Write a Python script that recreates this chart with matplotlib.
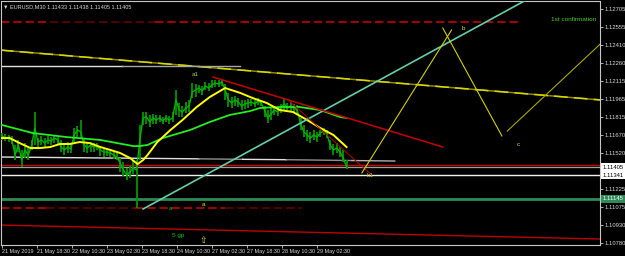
import matplotlib
matplotlib.use('Agg')
import matplotlib.pyplot as plt
import matplotlib.transforms as mtransforms

plt.rcParams['font.family'] = ['Liberation Sans', 'DejaVu Sans']

# ---------------- data ----------------
bars = list(range(0, 316, 3))
close = [1.11662, 1.11645, 1.11653, 1.11629, 1.11505, 1.11588, 1.11464, 1.11547, 1.11505, 1.11579,
         1.11727, 1.11612, 1.11629, 1.11604, 1.11629, 1.11621, 1.11645, 1.11629, 1.11571, 1.11547,
         1.11571, 1.11555, 1.11670, 1.11711, 1.11695, 1.11588, 1.11563, 1.11588, 1.11571, 1.11579,
         1.11547, 1.11530, 1.11530, 1.11522, 1.11505, 1.11489, 1.11440, 1.11382, 1.11341, 1.11366,
         1.11399, 1.11382, 1.11629, 1.11810, 1.11818, 1.11777, 1.11810, 1.11793, 1.11810, 1.11785,
         1.11810, 1.11793, 1.11810, 1.11958, 1.11875, 1.11859, 1.11892, 1.11908, 1.12023, 1.12040,
         1.12056, 1.12032, 1.12073, 1.12056, 1.12081, 1.12097, 1.12089, 1.12106, 1.12040, 1.11958,
         1.11933, 1.11958, 1.11941, 1.11908, 1.11925, 1.11933, 1.11941, 1.11925, 1.11950, 1.11933,
         1.11875, 1.11810, 1.11843, 1.11875, 1.11859, 1.11892, 1.11925, 1.11892, 1.11908, 1.11892,
         1.11875, 1.11760, 1.11695, 1.11670, 1.11645, 1.11670, 1.11653, 1.11686, 1.11703, 1.11678,
         1.11588, 1.11547, 1.11563, 1.11530, 1.11481, 1.11407]
high = [1.11686, 1.11678, 1.11670, 1.11662, 1.11588, 1.11629, 1.11547, 1.11604, 1.11563, 1.11629,
        1.11859, 1.11645, 1.11662, 1.11645, 1.11662, 1.11653, 1.11670, 1.11653, 1.11629, 1.11604,
        1.11612, 1.11596, 1.11727, 1.11744, 1.11793, 1.11645, 1.11612, 1.11612, 1.11604, 1.11604,
        1.11579, 1.11555, 1.11563, 1.11547, 1.11530, 1.11522, 1.11481, 1.11448, 1.11399, 1.11415,
        1.11464, 1.11464, 1.11752, 1.11859, 1.11859, 1.11834, 1.11843, 1.11834, 1.11834, 1.11818,
        1.11834, 1.11826, 1.11859, 1.12040, 1.11933, 1.11908, 1.11941, 1.11958, 1.12097, 1.12089,
        1.12081, 1.12073, 1.12106, 1.12097, 1.12122, 1.12122, 1.12122, 1.12130, 1.12089, 1.12015,
        1.11982, 1.11990, 1.11974, 1.11958, 1.11958, 1.11966, 1.11966, 1.11958, 1.11974, 1.11958,
        1.11908, 1.11875, 1.11892, 1.11908, 1.11900, 1.11925, 1.11974, 1.11933, 1.11941, 1.11925,
        1.11917, 1.11810, 1.11752, 1.11711, 1.11695, 1.11711, 1.11695, 1.11711, 1.11727, 1.11711,
        1.11629, 1.11596, 1.11604, 1.11571, 1.11547, 1.11464]
low = [1.11629, 1.11621, 1.11612, 1.11596, 1.11464, 1.11530, 1.11407, 1.11481, 1.11464, 1.11547,
       1.11588, 1.11563, 1.11588, 1.11571, 1.11596, 1.11588, 1.11604, 1.11596, 1.11530, 1.11505,
       1.11522, 1.11522, 1.11612, 1.11653, 1.11645, 1.11530, 1.11522, 1.11530, 1.11530, 1.11547,
       1.11497, 1.11489, 1.11497, 1.11489, 1.11473, 1.11464, 1.11366, 1.11333, 1.11300, 1.11316,
       1.11349, 1.11070, 1.11464, 1.11752, 1.11760, 1.11736, 1.11760, 1.11760, 1.11777, 1.11760,
       1.11777, 1.11760, 1.11777, 1.11834, 1.11818, 1.11818, 1.11851, 1.11859, 1.11974, 1.11982,
       1.12015, 1.11999, 1.12040, 1.12032, 1.12056, 1.12064, 1.12064, 1.12073, 1.11958, 1.11900,
       1.11892, 1.11908, 1.11900, 1.11875, 1.11884, 1.11892, 1.11908, 1.11900, 1.11917, 1.11908,
       1.11818, 1.11769, 1.11793, 1.11834, 1.11826, 1.11851, 1.11875, 1.11859, 1.11867, 1.11859,
       1.11843, 1.11711, 1.11653, 1.11621, 1.11604, 1.11629, 1.11612, 1.11653, 1.11670, 1.11645,
       1.11547, 1.11505, 1.11522, 1.11489, 1.11448, 1.11390]

ma_fast_bars = [0, 7, 16, 26, 35, 44, 53, 62, 71, 80, 90, 99, 108, 117, 124, 129, 133, 142, 154,
                165, 178, 190, 204, 218, 229, 242, 254, 266, 279, 291, 303, 315]
ma_fast = [1.11645, 1.11645, 1.11604, 1.11563, 1.11563, 1.11571, 1.11596, 1.11596, 1.11612, 1.11604,
           1.11571, 1.11547, 1.11522, 1.11481, 1.11431, 1.11464, 1.11505, 1.11612, 1.11711,
           1.11793, 1.11900, 1.11982, 1.12056, 1.12015, 1.11974, 1.11933, 1.11875, 1.11859, 1.11793,
           1.11727, 1.11670, 1.11571]
ma_slow_bars = [0, 28, 59, 90, 120, 126, 133, 147, 172, 190, 208, 227, 236, 254, 272, 291, 309, 315]
ma_slow = [1.11752, 1.11686, 1.11653, 1.11629, 1.11579, 1.11579, 1.11588, 1.11645, 1.11711, 1.11777,
           1.11834, 1.11867, 1.11892, 1.11900, 1.11900, 1.11875, 1.11818, 1.11810]

x_tick_bars = [0, 32, 64, 96, 128, 160, 192, 224, 256, 288]
x_tick_labels = ["21 May 2019", "21 May 18:30", "22 May 10:30", "23 May 02:30", "23 May 18:30",
                 "24 May 10:30", "27 May 02:30", "27 May 18:30", "28 May 10:30", "29 May 02:30"]
price_ticks = [1.12705, 1.12555, 1.12410, 1.12260, 1.12115, 1.11965, 1.11815, 1.11670, 1.11520,
               1.11225, 1.11075, 1.10930, 1.10780]

# chart objects (bar, price)
top_dash_x = [-1, 44, 140, 474]
top_dash_y = [1.12598, 1.12598, 1.12598, 1.12598]
low_dash_x = [-1, 40, 122, 204, 274]
low_dash_y = [1.11066, 1.11066, 1.11066, 1.11066, 1.11066]
red_floor_x = [-2, 547]
red_floor_y = [1.10930, 1.10815]
yellow_long_x = [-2, 547]
yellow_long_y = [1.12368, 1.11958]
white_top_x = [-2, 110, 218]
white_top_y = [1.12233, 1.12233, 1.12233]
white_mid_x = [-2, 180, 220, 260, 320, 359]
white_mid_y = [1.11489, 1.11474, 1.11470, 1.11467, 1.11460, 1.11456]
hline_red = 1.11423
hline_bid = 1.11405
hline_white = 1.11341
hline_green = 1.11145
aqua_x = [129, 480]
aqua_y = [1.11062, 1.12783]
red_trend_x = [193, 403]
red_trend_y = [1.12146, 1.11571]
thin_red_x = [261.5, 338]
thin_red_y = [1.11958, 1.11341]
wave1_x = [329, 411]
wave1_y = [1.11358, 1.12533]
wave2_x = [403, 457]
wave2_y = [1.12549, 1.11662]
wave3_x = [462, 547]
wave3_y = [1.11703, 1.12418]

# ---------------- figure ----------------
W, H = 625, 256
fig = plt.figure(figsize=(W / 100, H / 100), dpi=100, facecolor='black')
ax = fig.add_axes([1 / W, 11 / H, 599 / W, 244 / H], facecolor='black')
ax.set_xlim(-0.9, 546.7)
ax.set_ylim(1.10766, 1.12771)

# long objects behind price
ax.plot(red_floor_x, red_floor_y, color='#c00000', lw=1.0, zorder=2)
ax.plot(yellow_long_x, yellow_long_y, color='#8a8a00', lw=1.1, zorder=2)
ax.plot(yellow_long_x, yellow_long_y, color='#d8d800', lw=1.1, dashes=(9, 4), zorder=2)
ax.plot(white_top_x[:2], white_top_y[:2], color='#e0e0e0', lw=1.0, zorder=2)
ax.plot(white_top_x[1:], white_top_y[1:], color='#a8a8a8', lw=1.0, zorder=2)
ax.plot(white_mid_x[:2], white_mid_y[:2], color='#e0e0e0', lw=1.0, zorder=2)
ax.plot(white_mid_x[1:3], white_mid_y[1:3], color='#909090', lw=1.0, zorder=2)
ax.plot(white_mid_x[2:4], white_mid_y[2:4], color='#e0e0e0', lw=1.0, zorder=2)
ax.plot(white_mid_x[3:5], white_mid_y[3:5], color='#909090', lw=1.0, zorder=2)
ax.plot(white_mid_x[4:], white_mid_y[4:], color='#b0b0b0', lw=1.0, zorder=2)

for i in range(len(top_dash_x) - 1):
    c = '#6a0000' if i == 1 else '#d00000'
    ax.plot(top_dash_x[i:i + 2], top_dash_y[i:i + 2], color=c, lw=1.1, dashes=(5.5, 2.5), zorder=2)
for i in range(len(low_dash_x) - 1):
    c = '#6a0000' if i in (1, 3) else '#d00000'
    ax.plot(low_dash_x[i:i + 2], low_dash_y[i:i + 2], color=c, lw=1.1, dashes=(5.5, 2.5), zorder=2)

ax.axhline(hline_red, color='#d00000', lw=1.0, zorder=2)
ax.axhline(hline_bid, color='#a0a0a0', lw=0.9, zorder=2)
ax.axhline(hline_white, color='#f0f0f0', lw=1.0, zorder=2)
ax.axhline(hline_green, color='#2e8b57', lw=2.0, zorder=2)

# price bars
ax.vlines(bars, low, high, color='#009400', lw=1.3, zorder=3)
ax.plot(bars, close, color='#00b400', lw=1.0, zorder=3)

# moving averages
ax.plot(ma_slow_bars, ma_slow, color='#22ee22', lw=1.3, zorder=4)
ax.plot(ma_fast_bars, ma_fast, color='#ffff00', lw=1.4, zorder=4)

# trend lines
ax.plot(aqua_x, aqua_y, color='#66cdaa', lw=1.2, zorder=5)
ax.plot(red_trend_x, red_trend_y, color='#c80000', lw=1.1, zorder=5)
ax.plot(thin_red_x, thin_red_y, color='#b00000', lw=0.7, zorder=5)
ax.plot(wave1_x, wave1_y, color='#d0d000', lw=0.8, zorder=5)
ax.plot(wave2_x, wave2_y, color='#d0d000', lw=0.8, zorder=5)
ax.plot(wave3_x, wave3_y, color='#a8a800', lw=0.8, zorder=5)

# labels
fs = 4.6
ax.text(176.5, 1.12163, 'a1', color='#9acd32', fontsize=fs, ha='center', va='center', zorder=6)
ax.text(421.5, 1.12541, 'b', color='#e0e000', fontsize=fs, ha='center', va='center', zorder=6)
ax.text(471.8, 1.11588, 'c', color='#e0e000', fontsize=fs, ha='center', va='center', zorder=6)
ax.text(336.5, 1.11341, 'b1', color='#9acd32', fontsize=fs, ha='center', va='center', zorder=6)
ax.text(502, 1.12615, '1st confirmation', color='#4cd020', fontsize=fs, ha='left', va='center', zorder=6)
ax.text(183.8, 1.11100, 'a', color='#e0e000', fontsize=fs, ha='center', va='center', zorder=6)
ax.text(153.6, 1.11062, 'a', color='#00c000', fontsize=fs, ha='center', va='center', zorder=6)
ax.text(161, 1.10840, '5 gp', color='#00c000', fontsize=fs, ha='center', va='center', zorder=6)
ax.text(183.8, 1.10807, '⇧', color='#e0e000', fontsize=6.5, ha='center', va='center', zorder=6,
        family=['DejaVu Sans'])

ax.text(0.004, 0.975, '▼ EURUSD,M30 1.11433 1.11438 1.11405 1.11405', transform=ax.transAxes,
        color='#d8d8d8', fontsize=4.0, ha='left', va='center', zorder=7)

# axes styling
for s in ax.spines.values():
    s.set_color('#c8c8c8')
    s.set_linewidth(0.8)
ax.yaxis.tick_right()
ax.set_yticks(price_ticks)
ax.set_yticklabels([f'{p:.5f}' for p in price_ticks])
ax.set_xticks(x_tick_bars)
ax.set_xticklabels(x_tick_labels, ha='left')
ax.tick_params(axis='y', colors='#c8c8c8', labelcolor='#d8d8d8', labelsize=4.2, length=2, pad=1.5, width=0.6)
ax.tick_params(axis='x', colors='#c8c8c8', labelcolor='#d8d8d8', labelsize=3.9, length=2, pad=1.2, width=0.6)

# price boxes on the right axis
trans = mtransforms.blended_transform_factory(ax.transAxes, ax.transData)
boxes = [(hline_bid, 'white', 'black'), (hline_white, 'white', 'black'), (hline_green, '#2e8b57', 'white')]
for p, bg, fg in boxes:
    ax.text(1.004, p, f'{p:.5f}', transform=trans, fontsize=4.2, color=fg, ha='left', va='center',
            bbox=dict(boxstyle='square,pad=0.3', fc=bg, ec=bg, lw=0), zorder=8, clip_on=False)

fig.savefig('out.png', dpi=100, facecolor='black')
